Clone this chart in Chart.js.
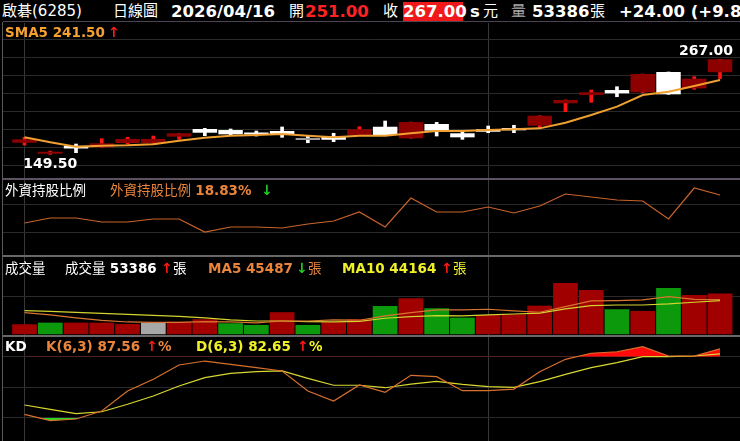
<!DOCTYPE html>
<html>
<head>
<meta charset="utf-8">
<script src="https://cdn.jsdelivr.net/npm/chart.js@4.4.1/dist/chart.umd.min.js"></script>
<style>
  body { margin:0; background:#000; }
  #wrap { position:relative; width:740px; height:441px; overflow:hidden; background:#000;
          font-family:"DejaVu Sans","Noto Sans CJK TC",sans-serif; color:#fff; }
  .pane { position:absolute; left:3px; }
  .t { position:absolute; white-space:nowrap; line-height:1; }
  .hd { font-size:15px; top:4px; }
  .num { font-weight:bold; font-size:16.5px; }
  .tt { font-size:13.5px; }
  .b { font-weight:bold; }
  .rule { position:absolute; }
  .up { color:#ff1a1a; font-weight:bold; font-size:14px; }
  .dn { color:#22cc22; font-weight:bold; font-size:14px; }
  .or { color:#e8843c; }
  .ye { color:#f0f028; }
</style>
</head>
<body>
<div id="wrap">
  <!-- header -->
  <span class="t hd" style="left:2px">啟碁(6285)</span>
  <span class="t hd" style="left:113px">日線圖</span>
  <span class="t hd num" style="left:171px">2026/04/16</span>
  <span class="t hd" style="left:289px">開</span>
  <span class="t hd num" style="left:305px;color:#ff2222">251.00</span>
  <span class="t hd" style="left:383px">收</span>
  <span class="t num" style="left:403px;top:2px;width:60px;height:19px;line-height:19px;text-align:center;background:#f01818">267.00</span>
  <span class="t hd num" style="left:470px">s</span>
  <span class="t hd" style="left:483px">元</span>
  <span class="t hd" style="left:511px;color:#a8a8a8">量</span>
  <span class="t hd num" style="left:532px">53386</span>
  <span class="t hd" style="left:590px">張</span>
  <span class="t hd num" style="left:619px">+24.00 (+9.88%)</span>

  <!-- frame -->
  <div class="rule" style="left:2px;top:22px;width:1px;height:419px;background:#5a5a5a"></div>
  <div class="rule" style="left:3px;top:21px;width:737px;height:1px;background:#4c4452"></div>
  <div class="rule" style="left:3px;top:178px;width:737px;height:2px;background:#5c5262"></div>
  <div class="rule" style="left:3px;top:255px;width:737px;height:2px;background:#686868"></div>
  <div class="rule" style="left:3px;top:335px;width:737px;height:2px;background:#686868"></div>

  <div class="pane" style="top:23px"><canvas id="priceChart" width="737" height="155"></canvas></div>
  <div class="pane" style="top:180px"><canvas id="foreignChart" width="737" height="75"></canvas></div>
  <div class="pane" style="top:257px"><canvas id="volChart" width="737" height="78"></canvas></div>
  <div class="pane" style="top:337px"><canvas id="kdChart" width="737" height="104"></canvas></div>

  <!-- panel titles -->
  <span class="t tt b" style="left:5px;top:26px;color:#f5a030">SMA5 241.50</span>
  <span class="t up" style="left:108px;top:25px">↑</span>

  <span class="t tt" style="left:5px;top:184px">外資持股比例</span>
  <span class="t tt or" style="left:110px;top:184px">外資持股比例 <b>18.83%</b></span>
  <span class="t dn" style="left:261px;top:183px">↓</span>

  <span class="t tt" style="left:5px;top:262px">成交量</span>
  <span class="t tt" style="left:65px;top:262px">成交量 <b>53386</b></span>
  <span class="t up" style="left:161px;top:261px">↑</span>
  <span class="t tt" style="left:173px;top:262px">張</span>
  <span class="t tt or b" style="left:208px;top:262px">MA5 45487</span>
  <span class="t dn" style="left:296px;top:261px">↓</span>
  <span class="t tt or" style="left:308px;top:262px">張</span>
  <span class="t tt ye b" style="left:342px;top:262px">MA10 44164</span>
  <span class="t up" style="left:441px;top:261px">↑</span>
  <span class="t tt ye" style="left:453px;top:262px">張</span>

  <span class="t tt b" style="left:5px;top:340px">KD</span>
  <span class="t tt or b" style="left:46px;top:340px">K(6,3) 87.56</span>
  <span class="t up" style="left:146px;top:339px">↑</span>
  <span class="t tt or b" style="left:158px;top:340px">%</span>
  <span class="t tt ye b" style="left:196px;top:340px">D(6,3) 82.65</span>
  <span class="t up" style="left:297px;top:339px">↑</span>
  <span class="t tt ye b" style="left:309px;top:340px">%</span>

  <span id="hiLabel" class="t b" style="font-size:14px">267.00</span>
  <span id="loLabel" class="t b" style="font-size:14px">149.50</span>
</div>

<script>
// trading days
const dates = ['03/06','03/09','03/10','03/11','03/12','03/13','03/16','03/17','03/18','03/19',
               '03/20','03/23','03/24','03/25','03/26','03/27','03/30','03/31','04/01','04/02',
               '04/07','04/08','04/09','04/10','04/13','04/14','04/15','04/16'];

// daily candles
const openPx  = [163.8,150.2,160.0,158.1,163.5,163.1,171.3,180.8,179.5,175.0,178.3,167.2,172.1,173.4,
                 183.6,169.3,187.0,175.5,180.4,182.0,184.9,212.6,222.8,229.0,226.2,251.3,231.0,251.0];
const highPx  = [170.5,153.5,162.2,168.8,170.5,172.1,175.5,181.6,180.8,178.3,183.3,172.1,175.5,183.6,
                 190.7,189.4,189.0,178.3,184.5,185.4,197.2,216.7,229.0,233.1,248.8,251.3,245.5,267.0];
const lowPx   = [161.0,149.5,151.5,158.1,162.2,162.5,168.0,172.5,173.6,172.1,170.5,163.8,165.1,173.4,
                 173.4,169.3,172.1,168.0,176.2,176.2,181.6,202.2,213.8,220.7,225.7,223.7,229.9,243.0];
const closePx = [168.0,152.3,156.7,163.1,168.5,168.5,175.5,176.2,174.2,174.0,174.6,167.2,167.5,180.4,
                 173.4,189.4,178.7,170.5,177.4,179.2,197.2,216.7,226.2,224.9,248.8,223.7,243.0,267.0];
const sma5    = [170.5,164.3,158.9,160.1,160.6,161.9,166.3,170.0,172.5,173.4,174.6,172.5,170.5,172.5,
                 172.5,175.5,178.3,178.3,179.5,180.4,181.6,188.6,198.1,208.4,222.8,226.9,234.0,241.5];

// foreign holding ratio (%)
const foreignPct = [18.55,18.60,18.60,18.56,18.56,18.59,18.59,18.46,18.51,18.51,18.50,18.54,18.57,18.66,
                    18.51,18.80,18.66,18.66,18.71,18.65,18.72,18.84,18.81,18.78,18.77,18.59,18.90,18.83];

// volume (張), direction vs previous close: u up, d down, f flat
const volume = [13100,15200,15200,15200,13500,15200,16500,19700,14400,12200,28900,12200,16100,19700,
                37100,47200,34100,21800,25300,26200,37500,67300,58100,32800,30600,60700,51600,53386];
const volDir = ['u','d','u','u','u','f','u','u','d','d','u','d','u','u',
                'd','u','d','d','u','u','u','u','u','d','u','d','u','u'];
const volMA5  = [28300,25300,21400,18100,16100,15500,15700,16500,16100,14800,17400,17400,18800,18400,
                 24000,28300,31900,31900,32800,30600,28900,36200,43700,44100,45000,49300,45900,45487];
const volMA10 = [31000,29900,28600,27300,26000,24700,23400,21400,18800,17400,17400,16500,16100,16800,
                 21000,23100,24400,24000,25300,26600,27600,33200,37500,38400,38400,39800,42000,44164];

// KD(6,3)
const kVal = [23.6,17.5,19.0,26.8,46.4,57.8,71.8,75.7,72.5,69.2,66.0,46.4,36.6,52.3,
              45.1,61.7,60.4,46.7,46.7,48.3,65.3,77.4,83.3,84.8,89.7,80.6,80.6,87.56];
const dVal = [32.7,28.5,24.2,26.1,33.4,41.5,51.3,59.4,63.7,65.3,66.0,58.8,52.0,52.0,
              49.6,53.2,55.9,52.9,50.6,50.0,55.5,62.7,69.2,74.1,80.0,80.0,80.6,82.65];
const kdLevels = [20, 50, 80];

// month start lines
const monthStarts = dates.map((d, i) => i).filter(i => i === 0 || dates[i].slice(0, 2) !== dates[i - 1].slice(0, 2));

const pts = arr => arr.map((v, i) => ({x: i, y: v}));

const X_MIN = -0.835, X_MAX = 27.776;
const GRID = '#2a2a2a';

function xAxis() {
    return {
        type: 'linear', min: X_MIN, max: X_MAX, offset: false,
        ticks: {display: false}, border: {display: false},
        grid: {drawTicks: false, offset: false, color: '#383838'},
        afterBuildTicks: s => { s.ticks = monthStarts.map(v => ({value: v})); }
    };
}

// helper axis that only draws evenly spaced horizontal grid lines
function gridAxis(min, max) {
    return {
        type: 'linear', position: 'left', reverse: true, min: min, max: max,
        ticks: {display: false}, border: {display: false},
        grid: {drawTicks: false, color: GRID},
        afterBuildTicks: s => {
            const t = [];
            for (let v = Math.ceil(min); v < max; v++) if (v > min) t.push({value: v});
            s.ticks = t;
        }
    };
}

function baseOptions(yAxis, gAxis) {
    const scales = {x: xAxis(), y: yAxis};
    if (gAxis) scales.g = gAxis;
    return {
        responsive: false, animation: false, events: [],
        layout: {padding: 0},
        plugins: {legend: {display: false}, tooltip: {enabled: false}},
        scales: scales
    };
}

const hidden = {display: false};

// price
const bodyColor = openPx.map((o, i) => closePx[i] > o ? '#8c0000' : (closePx[i] < o ? '#ffffff' : '#9c9c9c'));
const wickColor = openPx.map((o, i) => closePx[i] > o ? '#ff1414' : '#ffffff');

const priceChart = new Chart(document.getElementById('priceChart'), {
    data: {
        datasets: [
            {type: 'line', data: pts(sma5), borderColor: '#f0a030', borderWidth: 2, pointRadius: 0, tension: 0},
            {type: 'bar', data: openPx.map((o, i) => ({x: i, y: [o, closePx[i]]})), backgroundColor: bodyColor,
             barPercentage: 0.95, categoryPercentage: 1, minBarLength: 2, grouped: false},
            {type: 'bar', data: lowPx.map((l, i) => ({x: i, y: [l, highPx[i]]})), backgroundColor: wickColor,
             barThickness: 3, grouped: false}
        ]
    },
    options: baseOptions(Object.assign({}, hidden, {type: 'linear', min: 120.2, max: 311.9}), gridAxis(0.0556, 8.667))
});

// foreign holding
new Chart(document.getElementById('foreignChart'), {
    type: 'line',
    data: {datasets: [{data: pts(foreignPct), borderColor: '#c8642a', borderWidth: 1.2, pointRadius: 0, tension: 0}]},
    options: baseOptions(Object.assign({}, hidden, {type: 'linear', min: 18.23, max: 18.98}), gridAxis(0.143, 2.82))
});

// volume
const dirColor = {u: '#a00000', d: '#0c9a0c', f: '#a8a8a8'};
new Chart(document.getElementById('volChart'), {
    data: {
        datasets: [
            {type: 'line', data: pts(volMA5), borderColor: '#d8742f', borderWidth: 1.2, pointRadius: 0, tension: 0},
            {type: 'line', data: pts(volMA10), borderColor: '#d4d430', borderWidth: 1.2, pointRadius: 0, tension: 0},
            {type: 'bar', data: pts(volume), backgroundColor: volDir.map(d => dirColor[d]),
             barPercentage: 0.96, categoryPercentage: 1, grouped: false}
        ]
    },
    options: baseOptions(Object.assign({}, hidden, {type: 'linear', min: -1000, max: 101400}), gridAxis(0.0244, 1.927))
});

// KD
const kdY = {
    type: 'linear', min: -2.5, max: 99.2,
    ticks: {display: false}, border: {display: false},
    grid: {drawTicks: false, color: GRID},
    afterBuildTicks: s => { s.ticks = kdLevels.map(v => ({value: v})); }
};
new Chart(document.getElementById('kdChart'), {
    type: 'line',
    data: {
        datasets: [
            {data: pts(kVal), borderColor: '#d8702e', borderWidth: 1.2, pointRadius: 0, tension: 0},
            {data: pts(dVal), borderColor: '#d8d830', borderWidth: 1.2, pointRadius: 0, tension: 0},
            {data: pts(kVal), borderColor: 'transparent', borderWidth: 0, pointRadius: 0,
             fill: {target: {value: kdLevels[2]}, above: '#ff0a0a', below: 'transparent'}},
            {data: pts(kVal), borderColor: 'transparent', borderWidth: 0, pointRadius: 0,
             fill: {target: {value: kdLevels[0]}, above: 'transparent', below: '#22dd22'}}
        ]
    },
    options: baseOptions(kdY)
});

// high / low labels on the price panel
(function () {
    const sx = priceChart.scales.x, sy = priceChart.scales.y;
    const paneLeft = 3, paneTop = 23, rightEdge = 733;
    const hiIdx = highPx.indexOf(Math.max(...highPx));
    const loIdx = lowPx.indexOf(Math.min(...lowPx));
    const hi = document.getElementById('hiLabel'), lo = document.getElementById('loLabel');
    let hl = paneLeft + sx.getPixelForValue(hiIdx) - hi.offsetWidth / 2;
    hl = Math.min(hl, rightEdge - hi.offsetWidth);
    hi.style.left = hl + 'px';
    hi.style.top = (paneTop + sy.getPixelForValue(highPx[hiIdx]) - 16) + 'px';
    let ll = paneLeft + sx.getPixelForValue(loIdx) - lo.offsetWidth / 2;
    lo.style.left = Math.max(ll, paneLeft + 2) + 'px';
    lo.style.top = (paneTop + sy.getPixelForValue(lowPx[loIdx]) + 2) + 'px';
})();
</script>
</body>
</html>
